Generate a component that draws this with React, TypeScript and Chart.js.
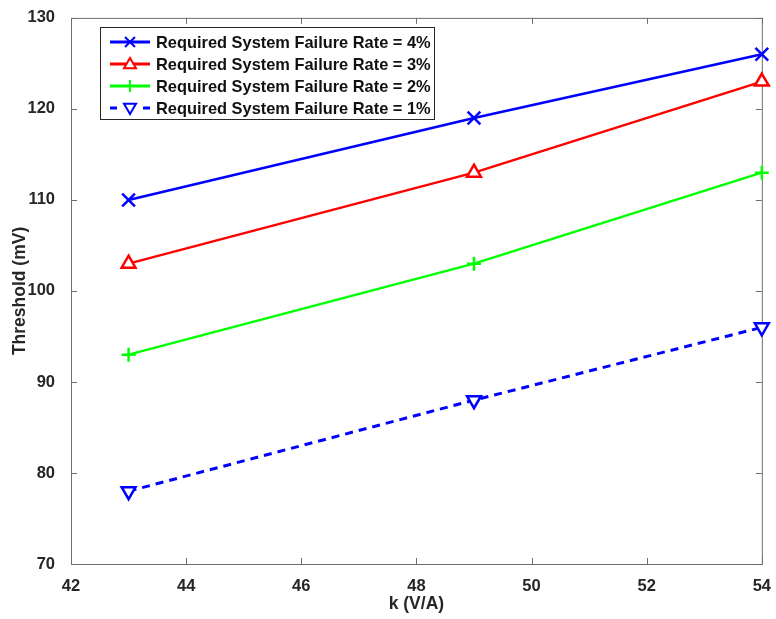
import React, { useEffect, useRef } from "react";
import { Chart, registerables } from "chart.js";

Chart.register(...registerables);

const kValues = [43, 49, 54];
const rate4 = [110, 119, 126];
const rate3 = [103, 113, 123];
const rate2 = [93, 103, 113];
const rate1 = [78, 88, 96];
const seriesLabels = [
  "Required System Failure Rate = 4%",
  "Required System Failure Rate = 3%",
  "Required System Failure Rate = 2%",
  "Required System Failure Rate = 1%",
];
const xTicks = [42, 44, 46, 48, 50, 52, 54];
const yTicks = [70, 80, 90, 100, 110, 120, 130];

const FONT = "'Liberation Sans', Arial, Helvetica, sans-serif";
const TEXT = "#262626";
const AXIS = "#6e6e6e";

function drawMarker(ctx: CanvasRenderingContext2D, style: string, x: number, y: number, r: number) {
  ctx.beginPath();
  if (style === "crossRot") {
    ctx.moveTo(x - r, y - r); ctx.lineTo(x + r, y + r);
    ctx.moveTo(x + r, y - r); ctx.lineTo(x - r, y + r);
  } else if (style === "cross") {
    ctx.moveTo(x - r, y); ctx.lineTo(x + r, y);
    ctx.moveTo(x, y - r); ctx.lineTo(x, y + r);
  } else if (style === "triUp") {
    ctx.moveTo(x, y - r); ctx.lineTo(x + r, y + r * 0.7); ctx.lineTo(x - r, y + r * 0.7); ctx.closePath();
    ctx.fillStyle = "#fff"; ctx.fill();
  } else if (style === "triDown") {
    ctx.moveTo(x, y + r); ctx.lineTo(x + r, y - r * 0.7); ctx.lineTo(x - r, y - r * 0.7); ctx.closePath();
    ctx.fillStyle = "#fff"; ctx.fill();
  }
  ctx.stroke();
}

const frame = {
  id: "frame",
  beforeDatasetsDraw(chart: any) {
    const ctx = chart.ctx as CanvasRenderingContext2D;
    const { left, right, top, bottom } = chart.chartArea;
    const xs = chart.scales.x;
    const ys = chart.scales.y;
    ctx.save();
    ctx.strokeStyle = AXIS;
    ctx.lineWidth = 1;
    ctx.strokeRect(left + 0.5, top + 0.5, right - left, bottom - top);
    const tl = 6;
    ctx.beginPath();
    xTicks.forEach((v) => {
      const px = Math.round(xs.getPixelForValue(v)) + 0.5;
      ctx.moveTo(px, bottom); ctx.lineTo(px, bottom - tl);
      ctx.moveTo(px, top); ctx.lineTo(px, top + tl);
    });
    yTicks.forEach((v) => {
      const py = Math.round(ys.getPixelForValue(v)) + 0.5;
      ctx.moveTo(left, py); ctx.lineTo(left + tl, py);
      ctx.moveTo(right, py); ctx.lineTo(right - tl, py);
    });
    ctx.stroke();
    ctx.restore();
  },
};

const legendBox = {
  id: "legendBox",
  afterDraw(chart: any) {
    const ctx = chart.ctx as CanvasRenderingContext2D;
    ctx.save();
    const lx = 100, ly = 27, lw = 334, lh = 92;
    ctx.fillStyle = "#fff";
    ctx.fillRect(lx, ly, lw, lh);
    ctx.strokeStyle = TEXT;
    ctx.lineWidth = 1;
    ctx.strokeRect(lx + 0.5, ly + 0.5, lw, lh);
    const styles = ["crossRot", "triUp", "cross", "triDown"];
    const colors = ["#0000ff", "#ff0000", "#00ff00", "#0000ff"];
    const rowsY = [42, 64, 86, 108];
    seriesLabels.forEach((lab, i) => {
      const y = rowsY[i];
      ctx.strokeStyle = colors[i];
      ctx.lineWidth = 3;
      ctx.beginPath();
      if (i === 3) {
        ctx.moveTo(110, y); ctx.lineTo(117, y);
        ctx.moveTo(143, y); ctx.lineTo(150, y);
      } else {
        ctx.moveTo(110, y); ctx.lineTo(150, y);
      }
      ctx.stroke();
      ctx.lineWidth = 2;
      drawMarker(ctx, i === 0 ? styles[i] : styles[i], 130, y, i === 0 ? 5 : 6);
      ctx.fillStyle = "#111";
      ctx.font = `bold 16.4px ${FONT}`;
      ctx.textBaseline = "middle";
      ctx.textAlign = "left";
      ctx.fillText(lab, 156, y + 1);
    });
    ctx.restore();
  },
};

export default function App() {
  const ref = useRef<HTMLCanvasElement>(null);
  useEffect(() => {
    document.body.style.margin = "0";
    const mk = (vals: number[]) => kValues.map((k, i) => ({ x: k, y: vals[i] }));
    const chart = new Chart(ref.current!, {
      type: "line",
      data: {
        datasets: [
          { label: seriesLabels[0], data: mk(rate4), borderColor: "#0000ff", backgroundColor: "#0000ff", borderWidth: 2.5, pointStyle: "crossRot", pointRadius: 9, pointBorderWidth: 2.5, pointBorderColor: "#0000ff" },
          { label: seriesLabels[1], data: mk(rate3), borderColor: "#ff0000", backgroundColor: "#ffffff", borderWidth: 2.5, pointStyle: "triangle", pointRadius: 8, pointBorderWidth: 2.5, pointBorderColor: "#ff0000" },
          { label: seriesLabels[2], data: mk(rate2), borderColor: "#00ff00", backgroundColor: "#00ff00", borderWidth: 2.5, pointStyle: "cross", pointRadius: 7, pointBorderWidth: 2.5, pointBorderColor: "#00ff00" },
          { label: seriesLabels[3], data: mk(rate1), borderColor: "#0000ff", backgroundColor: "#ffffff", borderWidth: 3, borderDash: [8, 6], pointStyle: "triangle", pointRotation: 180, pointRadius: 8, pointBorderWidth: 2.5, pointBorderColor: "#0000ff" },
        ],
      },
      options: {
        responsive: false,
        animation: false,
        clip: false,
        layout: { padding: { top: 15, right: 13, left: 0, bottom: 0 } },
        plugins: { legend: { display: false }, tooltip: { enabled: false } },
        scales: {
          x: {
            type: "linear",
            min: 42,
            max: 54,
            afterBuildTicks: (s: any) => { s.ticks = xTicks.map((v) => ({ value: v })); },
            afterFit: (s: any) => { s.height = 55; },
            grid: { display: false },
            border: { display: false },
            ticks: { color: TEXT, font: { family: FONT, size: 16.5, weight: "bold" }, padding: 5 },
            title: { display: true, text: "k (V/A)", color: TEXT, font: { family: FONT, size: 17.5, weight: "bold" }, padding: { top: 0 } },
          },
          y: {
            type: "linear",
            min: 70,
            max: 130,
            afterBuildTicks: (s: any) => { s.ticks = yTicks.map((v) => ({ value: v })); },
            afterFit: (s: any) => { s.width = 71; },
            grid: { display: false },
            border: { display: false },
            ticks: { color: TEXT, font: { family: FONT, size: 16.5, weight: "bold" }, padding: 8 },
            title: { display: true, text: "Threshold (mV)", color: TEXT, font: { family: FONT, size: 17.5, weight: "bold" }, padding: { top: 10, bottom: 0 } },
          },
        },
      },
      plugins: [frame, legendBox],
    } as any);
    return () => chart.destroy();
  }, []);
  return (
    <div style={{ width: 776, height: 619 }}>
      <canvas ref={ref} width={776} height={619} />
    </div>
  );
}
